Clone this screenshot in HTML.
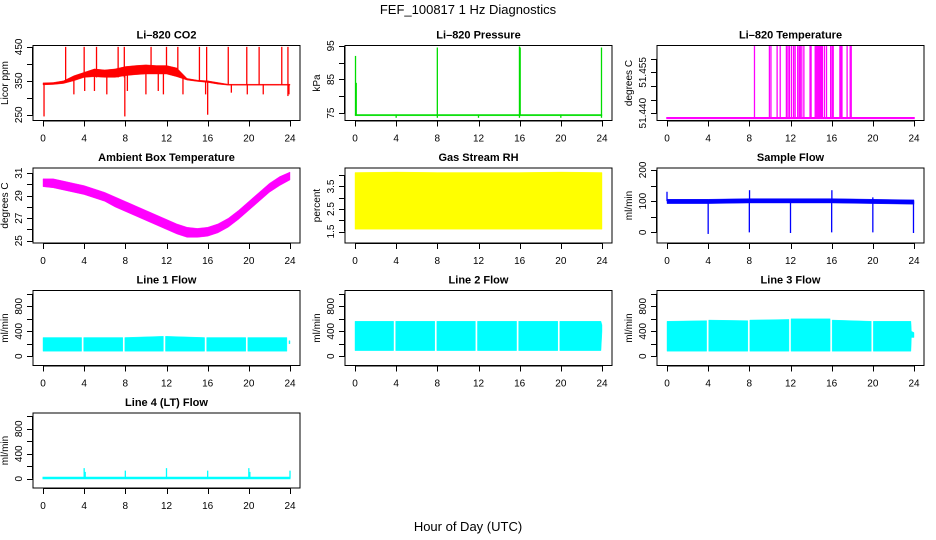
<!DOCTYPE html>
<html><head><meta charset="utf-8"><style>
html,body{margin:0;padding:0;background:#fff;}
svg{display:block;font-family:"Liberation Sans",Arial,sans-serif;}
</style></head><body>
<svg id="chart" width="936" height="540" viewBox="0 0 936 540" xmlns="http://www.w3.org/2000/svg">
<text x="468" y="14" text-anchor="middle" font-size="13">FEF_100817  1 Hz Diagnostics</text>
<text x="468" y="531" text-anchor="middle" font-size="13">Hour of Day (UTC)</text>
</svg>
<script>
// ---- data (hours, values) ----
const co2T  = [0,1,2,3,4,5,6,7,8,9,10,11,12,13,14,15,16,17,18,19,20,21,22,23,24];
const co2Lo = [338,339,342,350,360,362,360,360,365,368,370,370,370,362,352,348,345,340,337,337,337,337,337,337,337];
const co2Hi = [344,345,350,365,375,385,382,385,392,395,397,395,395,388,357,352,350,345,340,340,340,340,340,340,340];
const co2SpikeT  = [0.1,2.2,3.0,4.0,4.05,5.0,5.2,6.2,7.3,7.9,7.95,8.2,10.0,10.5,11.2,11.7,12.0,13.1,13.6,15.2,15.8,15.9,16.0,18.0,18.3,19.8,19.85,21.0,21.4,23.2,23.8,23.9];
const co2SpikeLo = [245,345,310,360,320,320,360,310,360,360,245,320,310,370,320,310,370,370,310,348,310,345,250,338,315,338,310,338,310,338,305,310];
const co2SpikeHi = [340,450,360,450,370,370,450,370,450,450,370,370,380,450,380,380,450,450,360,450,350,450,350,450,340,450,340,450,340,450,450,340];

const presT  = [0,24];
const presLo = [74.2,74.2];
const presHi = [74.6,74.6];
const presSpikeT  = [0.05,0.12,4.0,8.0,12.0,15.98,16.05,20.0,23.95];
const presSpikeLo = [74.5,74.5,73.6,73.6,73.6,73.6,74.5,73.6,73.6];
const presSpikeHi = [92,84,74.6,94.5,74.6,94.8,94.5,74.6,94.5];

const tempT  = [0,24];
const tempLo = [51.4381,51.4381];
const tempHi = [51.4383,51.4383];
const tempSpikeT = [8.5,9.95,10.1,10.7,11.0,11.6,11.75,11.9,12.1,12.3,12.45,12.7,12.85,12.95,13.1,13.3,13.9,14.0,14.4,14.5,14.6,14.7,14.8,14.9,15.0,15.1,15.3,15.5,15.9,16.05,16.15,16.8,16.9,17.0,17.5,17.8,17.9];

const ambT  = [0,1,2,3,4,5,6,7,8,9,10,11,12,13,14,15,16,17,18,19,20,21,22,23,24];
const ambLo = [29.8,29.7,29.5,29.3,29.1,28.8,28.5,28.0,27.6,27.2,26.8,26.4,26.0,25.6,25.3,25.3,25.4,25.7,26.2,26.9,27.7,28.5,29.3,29.9,30.4];
const ambHi = [30.5,30.5,30.3,30.1,29.9,29.6,29.3,28.9,28.5,28.1,27.7,27.3,26.9,26.5,26.2,26.1,26.2,26.5,27.0,27.7,28.5,29.3,30.1,30.7,31.1];

const rhT  = [0,4,8,12,16,20,24];
const rhLo = [1.6,1.6,1.6,1.6,1.6,1.6,1.6];
const rhHi = [4.12,4.14,4.12,4.12,4.12,4.14,4.12];

const sfT  = [0,4,8,12,16,20,24];
const sfLo = [92,92,94,94,94,92,90];
const sfHi = [106,106,108,108,108,106,104];
const sfSpikeT  = [0.0,4.0,8.0,8.02,12.0,16.0,16.02,20.0,23.95];
const sfSpikeLo = [100,-5,0,100,-2,0,100,0,-2];
const sfSpikeHi = [130,100,100,135,100,100,135,112,100];

const l1T  = [0,3.75,3.8,3.95,7.75,7.8,7.95,11.7,11.75,11.9,15.7,15.75,15.9,19.7,19.75,19.9,23.7,23.75,23.9,24];
const l1Lo = [80,80,null,80,80,null,80,80,null,80,80,null,80,80,null,80,80,null,200,200];
const l1Hi = [300,300,null,300,300,null,300,320,null,320,300,null,300,300,null,300,300,null,250,250];

const l2T  = [0,3.75,3.8,3.95,7.75,7.8,7.95,11.7,11.75,11.9,15.7,15.75,15.9,19.7,19.75,19.9,23.9,24];
const l2Lo = [90,90,null,90,90,null,90,90,null,90,90,null,90,90,null,90,90,400];
const l2Hi = [560,560,null,560,560,null,560,560,null,560,560,null,560,560,null,560,560,500];

const l3T  = [0,3.85,3.9,4.05,7.85,7.9,8.05,11.85,11.9,12.05,15.85,15.9,16.05,19.85,19.9,20.05,23.7,23.75,24];
const l3Lo = [80,80,null,80,80,null,80,80,null,80,80,null,80,80,null,80,80,300,300];
const l3Hi = [560,570,null,580,570,null,580,590,null,600,600,null,580,560,null,560,560,400,380];

const l4T  = [0,24];
const l4Lo = [0,0];
const l4Hi = [25,25];
const l4SpikeT = [4.0,4.1,8.0,12.0,16.0,20.0,20.1,24.0];
const l4SpikeHi = [170,110,130,170,130,170,110,130];

const xTickVals = [0,4,8,12,16,20,24];

// ---- layout ----
const SVGNS = "http://www.w3.org/2000/svg";
const svg = document.getElementById('chart');
const COLX = [33,345,657];
const ROWY = [45.5,168,290.5,413];
const W = 267, H = 75;

function mk(tag, attrs, parent){
  const e = document.createElementNS(SVGNS, tag);
  for (const k in attrs) e.setAttribute(k, attrs[k]);
  (parent||svg).appendChild(e);
  return e;
}

function panel(cfg){
  const left = COLX[cfg.col], top = ROWY[cfg.row], bottom = top + H;
  const g = mk('g', {});
  
  
  const xs = h => left + 10 + h * 247 / 24;
  const ys = v => bottom - (v - cfg.yBot) / (cfg.yTop - cfg.yBot) * H;
  const clip = 'clip-' + cfg.name;
  const cp = mk('clipPath', {id: clip}, g);
  mk('rect', {x:left, y:top, width:W, height:H}, cp);
  const dg = mk('g', {'clip-path':'url(#'+clip+')'}, g);
  
  
  const sw = cfg.sw || 0.4;
  if (cfg.t){
    let run = [];
    const flush = () => {
      if (run.length < 2) { run = []; return; }
      let d = run.map((i,k)=>(k?'L':'M')+xs(cfg.t[i]).toFixed(2)+','+ys(cfg.hi[i]).toFixed(2)).join('');
      for (let k = run.length-1; k >= 0; k--) d += 'L'+xs(cfg.t[run[k]]).toFixed(2)+','+ys(cfg.lo[run[k]]).toFixed(2);
      d += 'Z';
      const p = mk('path', {d:d, fill:cfg.color, stroke:cfg.color, 'stroke-width':sw}, dg);
      
      
      run = [];
    };
    for (let i = 0; i < cfg.t.length; i++){
      if (cfg.lo[i] === null) flush(); else run.push(i);
    }
    flush();
  }
  if (cfg.sT){
    for (let i = 0; i < cfg.sT.length; i++){
      const l = mk('line', {x1:xs(cfg.sT[i]), x2:xs(cfg.sT[i]), y1:ys(cfg.sLo[i]), y2:ys(cfg.sHi[i]), stroke:cfg.color, 'stroke-width':1.3}, dg);
      
      
    }
  }
  const box = mk('rect', {x:left, y:top, width:W, height:H, fill:'none', stroke:'#000', 'stroke-width':1, 'shape-rendering':'crispEdges'}, g);
  
  
  const tt = mk('text', {x:left+W/2, y:top-7, 'text-anchor':'middle', 'font-size':11, 'font-weight':'bold'}, g);
  tt.textContent = cfg.title;
  
  
  const xa = mk('g', {}, g);
  
  
  mk('line', {x1:xs(0), x2:xs(24), y1:bottom+0.5, y2:bottom+0.5, stroke:'#000'}, xa);
  xTickVals.forEach(v=>{
    mk('line', {x1:Math.round(xs(v))+0.5, x2:Math.round(xs(v))+0.5, y1:bottom, y2:bottom+6, stroke:'#000'}, xa);
    const t = mk('text', {x:xs(v), y:bottom+21, 'text-anchor':'middle', 'font-size':10}, xa);
    t.textContent = v;
  });
  const ya = mk('g', {}, g);
  
  
  const tk = cfg.ticks;
  mk('line', {x1:left-0.5, x2:left-0.5, y1:ys(tk[0]), y2:ys(tk[tk.length-1]), stroke:'#000'}, ya);
  tk.forEach(v=>{
    const y = Math.round(ys(v))+0.5;
    mk('line', {x1:left-6, x2:left, y1:y, y2:y, stroke:'#000'}, ya);
  });
  cfg.labels.forEach(v=>{
    const y = ys(v), x = left-11;
    const t = mk('text', {x:x, y:y, 'text-anchor':'middle', 'font-size':10, transform:'rotate(-90 '+x+' '+y+')'}, ya);
    t.textContent = cfg.dec ? v.toFixed(cfg.dec) : v;
  });
  const yx = left-25, yy = top+H/2;
  const yl = mk('text', {x:yx, y:yy, 'text-anchor':'middle', 'font-size':10, transform:'rotate(-90 '+yx+' '+yy+')'}, g);
  yl.textContent = cfg.ylab;
  
  
}

const RED='#ff0000', GREEN='#00dd00', MAG='#ff00ff', YEL='#ffff00', BLUE='#0000ff', CYAN='#00ffff';
const flowTicks=[0,200,400,600,800,1000], flowLabels=[0,400,800];

panel({name:'co2-panel', title:'Li–820 CO2', ylab:'Licor ppm', col:0,row:0, color:RED, yBot:233, yTop:454,
  ticks:[250,300,350,400,450], labels:[250,350,450], t:co2T, lo:co2Lo, hi:co2Hi, sT:co2SpikeT, sLo:co2SpikeLo, sHi:co2SpikeHi});
panel({name:'pressure-panel', title:'Li–820 Pressure', ylab:'kPa', col:1,row:0, color:GREEN, yBot:72.8, yTop:95.1,
  ticks:[75,80,85,90,95], labels:[75,85,95], t:presT, lo:presLo, hi:presHi, sT:presSpikeT, sLo:presSpikeLo, sHi:presSpikeHi});
panel({name:'licor-temp-panel', title:'Li–820 Temperature', ylab:'degrees C', col:2,row:0, color:MAG, yBot:51.4373, yTop:51.4649, sw:1.5, dec:3,
  ticks:[51.440,51.445,51.450,51.455,51.460], labels:[51.440,51.455], t:tempT, lo:tempLo, hi:tempHi,
  sT:tempSpikeT, sLo:tempSpikeT.map(()=>51.4382), sHi:tempSpikeT.map(()=>51.4647)});
panel({name:'ambient-temp-panel', title:'Ambient Box Temperature', ylab:'degrees C', col:0,row:1, color:MAG, yBot:24.8, yTop:31.46,
  ticks:[25,26,27,28,29,30,31], labels:[25,27,29,31], t:ambT, lo:ambLo, hi:ambHi});
panel({name:'rh-panel', title:'Gas Stream RH', ylab:'percent', col:1,row:1, color:YEL, yBot:0.99, yTop:4.32,
  ticks:[1.5,2,2.5,3,3.5,4], labels:[1.5,2.5,3.5], t:rhT, lo:rhLo, hi:rhHi});
panel({name:'sample-flow-panel', title:'Sample Flow', ylab:'ml/min', col:2,row:1, color:BLUE, yBot:-34, yTop:206,
  ticks:[0,50,100,150,200], labels:[0,100,200], t:sfT, lo:sfLo, hi:sfHi, sT:sfSpikeT, sLo:sfSpikeLo, sHi:sfSpikeHi});
panel({name:'line1-flow-panel', title:'Line 1 Flow', ylab:'ml/min', col:0,row:2, color:CYAN, yBot:-148, yTop:1053,
  ticks:flowTicks, labels:flowLabels, t:l1T, lo:l1Lo, hi:l1Hi});
panel({name:'line2-flow-panel', title:'Line 2 Flow', ylab:'ml/min', col:1,row:2, color:CYAN, yBot:-148, yTop:1053,
  ticks:flowTicks, labels:flowLabels, t:l2T, lo:l2Lo, hi:l2Hi});
panel({name:'line3-flow-panel', title:'Line 3 Flow', ylab:'ml/min', col:2,row:2, color:CYAN, yBot:-148, yTop:1053,
  ticks:flowTicks, labels:flowLabels, t:l3T, lo:l3Lo, hi:l3Hi});
panel({name:'line4-flow-panel', title:'Line 4 (LT) Flow', ylab:'ml/min', col:0,row:3, color:CYAN, yBot:-148, yTop:1053, sw:1,
  ticks:flowTicks, labels:flowLabels, t:l4T, lo:l4Lo, hi:l4Hi, sT:l4SpikeT, sLo:l4SpikeT.map(()=>10), sHi:l4SpikeHi});
</script>
</body></html>
